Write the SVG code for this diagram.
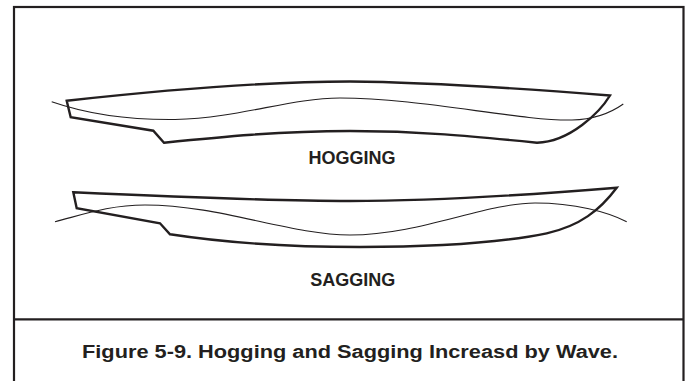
<svg xmlns="http://www.w3.org/2000/svg" width="688" height="381" viewBox="0 0 688 381">
  <style>
    .frame { fill: none; stroke: #231f20; stroke-width: 2.2; }
    .hull { fill: none; stroke: #231f20; stroke-width: 2.4; stroke-linejoin: miter; }
    .wave { fill: none; stroke: #231f20; stroke-width: 1.1; }
    .label { font-family: "Liberation Sans", Arial, sans-serif; font-weight: bold; fill: #231f20; text-anchor: middle; }
  </style>
  <rect width="688" height="381" fill="#ffffff"/>

  <!-- outer frame and caption divider -->
  <g id="frame">
    <rect class="frame" x="14" y="7" width="669.5" height="390"/>
    <line class="frame" x1="14" y1="319.3" x2="683.5" y2="319.3"/>
  </g>

  <!-- hull bent upward amidships, riding a wave crest -->
  <g id="hogging">
    <path class="hull" d="M66.7,100.7 C200,86 290,81.5 350,81.5 C430,82 540,90 610,95.5 C600,112 570,142 537,142.7 C470,136 420,131 350,131 C280,131 220,137 164,142.7 L153.3,130.7 L70.7,117.3 Z"/>
    <path class="wave" d="M51.7,101.7 C90,115 130,120 175,119.5 C240,118 290,98 340,98 C420,98 520,121 572,120 C595,119.5 612,112 623.3,104"/>
    <text class="label" x="352" y="164" font-size="18">HOGGING</text>
  </g>

  <!-- hull bent downward amidships, spanning two crests -->
  <g id="sagging">
    <path class="hull" d="M73.3,192.3 C200,198 280,201 350,201 C440,201 540,194 616.7,187.7 C600,210 580,226 546.7,233.3 C490,245 420,247 360,247 C280,247 220,242 170,234.3 L160,223.3 L76.7,208.3 Z"/>
    <path class="wave" d="M55,221.7 C85,214 110,205 145,205 C220,205 290,235 350,235 C420,235 485,203 535,203 C575,203 608,212 626.7,221.7"/>
    <text class="label" x="352.7" y="286" font-size="18">SAGGING</text>
  </g>

  <g id="caption">
    <text class="label" x="350" y="358.3" font-size="18" textLength="536" lengthAdjust="spacingAndGlyphs">Figure 5-9. Hogging and Sagging Increasd by Wave.</text>
  </g>
</svg>
